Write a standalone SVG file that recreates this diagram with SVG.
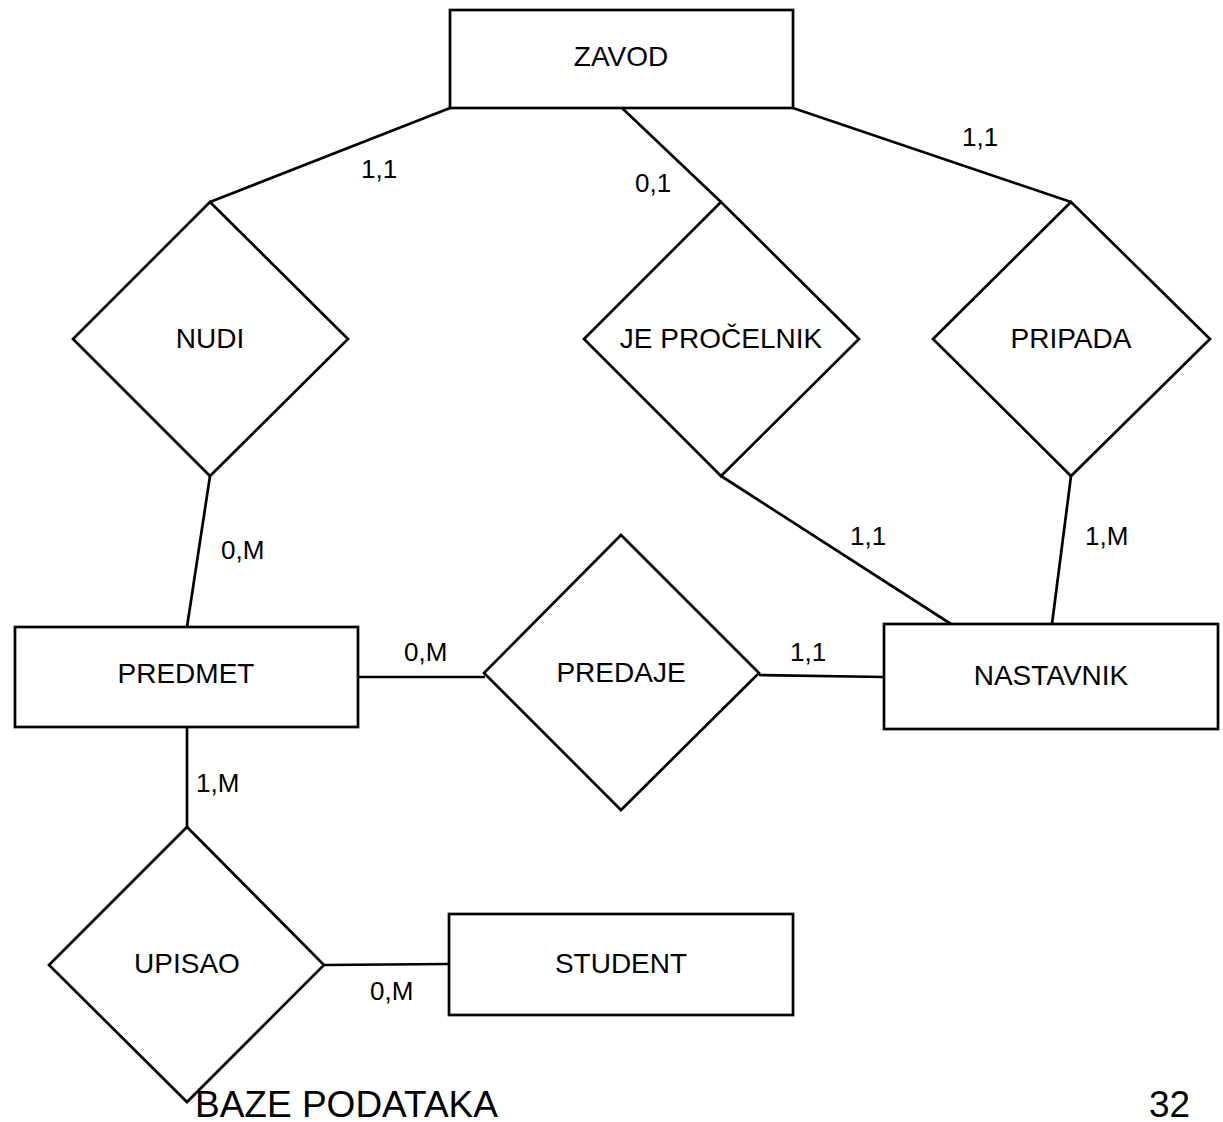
<svg xmlns="http://www.w3.org/2000/svg" width="1223" height="1122" viewBox="0 0 1223 1122">
  <style>
    .shape { fill: #ffffff; stroke: #000000; stroke-width: 2.7; stroke-linejoin: miter; }
    .link { fill: none; stroke: #000000; stroke-width: 2.7; }
    .name { font-family: "Liberation Sans", Arial, sans-serif; font-size: 28px; fill: #000000; text-anchor: middle; }
    .card { font-family: "Liberation Sans", Arial, sans-serif; font-size: 26px; fill: #000000; }
    .foot { font-family: "Liberation Sans", Arial, sans-serif; font-size: 37px; fill: #000000; }
  </style>
  <rect width="1223" height="1122" fill="#ffffff"/>

  <!-- relationship lines -->
  <g id="connectors">
    <polyline class="link" points="450,108 210,202"/>
    <polyline class="link" points="622,108 721,202"/>
    <polyline class="link" points="793,108 1071,202"/>
    <polyline class="link" points="210,476 187,627"/>
    <polyline class="link" points="721,476 951,624"/>
    <polyline class="link" points="1071,476 1052,624"/>
    <polyline class="link" points="358,677 485,677"/>
    <polyline class="link" points="759,675 884,677"/>
    <polyline class="link" points="187,727 187,827"/>
    <polyline class="link" points="324,965 449,964"/>
  </g>

  <!-- entities -->
  <g id="zavod">
    <rect class="shape" x="450" y="10" width="343" height="98"/>
    <text class="name" x="621" y="66">ZAVOD</text>
  </g>
  <g id="predmet">
    <rect class="shape" x="15" y="627" width="343" height="100"/>
    <text class="name" x="186" y="683">PREDMET</text>
  </g>
  <g id="nastavnik">
    <rect class="shape" x="884" y="624" width="334" height="105"/>
    <text class="name" x="1051" y="685">NASTAVNIK</text>
  </g>
  <g id="student">
    <rect class="shape" x="449" y="914" width="344" height="101"/>
    <text class="name" x="621" y="973">STUDENT</text>
  </g>

  <!-- relationships -->
  <g id="nudi">
    <polygon class="shape" points="210,202 348,339 210,476 73,339"/>
    <text class="name" x="210" y="348">NUDI</text>
  </g>
  <g id="je-procelnik">
    <polygon class="shape" points="721,202 859,339 721,476 584,339"/>
    <text class="name" x="721" y="348">JE PROČELNIK</text>
  </g>
  <g id="pripada">
    <polygon class="shape" points="1071,202 1210,339 1071,476 933,339"/>
    <text class="name" x="1071" y="348">PRIPADA</text>
  </g>
  <g id="predaje">
    <polygon class="shape" points="621,535 759,673 621,810 484,673"/>
    <text class="name" x="621" y="682">PREDAJE</text>
  </g>
  <g id="upisao">
    <polygon class="shape" points="187,827 324,965 187,1102 49,965"/>
    <text class="name" x="187" y="973">UPISAO</text>
  </g>

  <!-- cardinalities -->
  <g id="cardinalities">
    <text class="card" x="361" y="178">1,1</text>
    <text class="card" x="635" y="192">0,1</text>
    <text class="card" x="962" y="146">1,1</text>
    <text class="card" x="221" y="559">0,M</text>
    <text class="card" x="850" y="545">1,1</text>
    <text class="card" x="1085" y="545">1,M</text>
    <text class="card" x="404" y="661">0,M</text>
    <text class="card" x="790" y="661">1,1</text>
    <text class="card" x="196" y="792">1,M</text>
    <text class="card" x="370" y="1000">0,M</text>
  </g>

  <!-- footer -->
  <text class="foot" x="195" y="1117">BAZE PODATAKA</text>
  <text class="foot" x="1149" y="1117">32</text>
</svg>
